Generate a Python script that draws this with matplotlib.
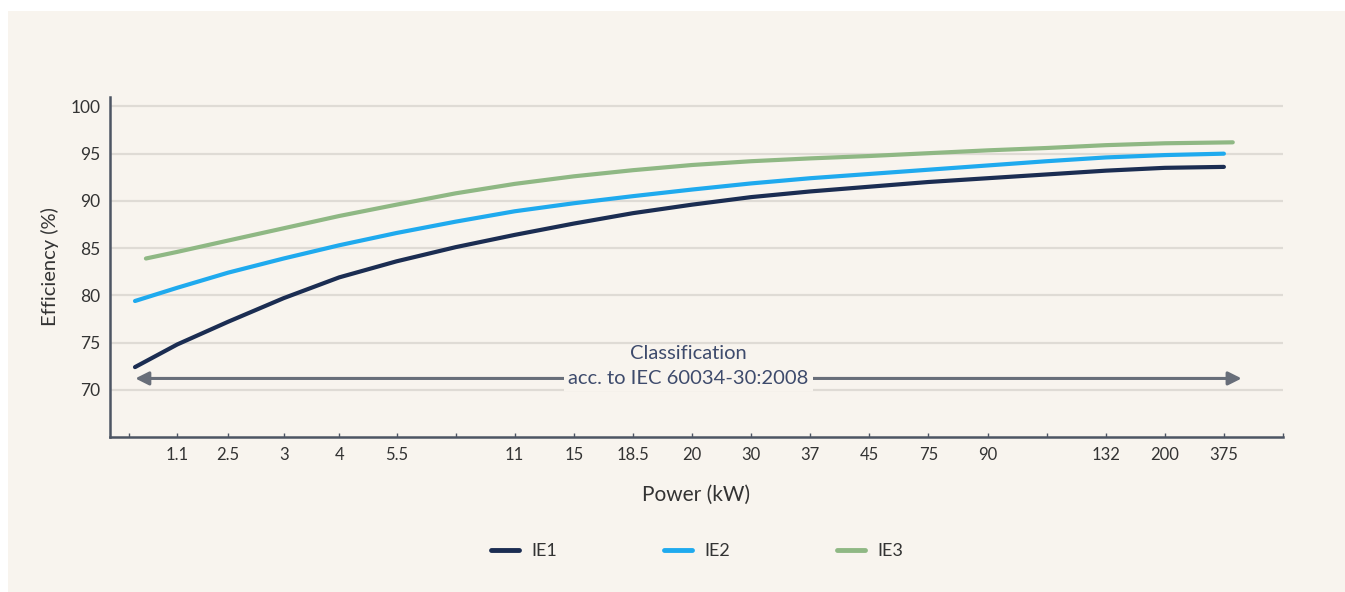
import matplotlib
matplotlib.use("Agg")
import matplotlib.pyplot as plt

# ---------------- data ----------------
power_labels = ["", "1.1", "2.5", "3", "4", "5.5", "", "11", "15", "18.5", "20",
                "30", "37", "45", "75", "90", "", "132", "200", "375", ""]

# efficiency read at each labelled power rating (position along power axis)
ie1_pos = [0.575, 1.29, 2.15, 3.09, 4.03, 5, 6, 7, 8, 9, 10, 11, 12, 13, 14, 15, 16, 17, 18, 19]
ie1_eff = [72.4, 74.8, 77.2, 79.7, 81.9, 83.6, 85.1, 86.4, 87.6, 88.7, 89.6, 90.4, 91.0,
           91.5, 92.0, 92.4, 92.8, 93.2, 93.5, 93.6]

ie2_pos = [0.575, 1.29, 2.15, 3.09, 4.03, 5, 6, 7, 8, 9, 10, 11, 12, 13, 14, 15, 16, 17, 18, 19]
ie2_eff = [79.4, 80.8, 82.4, 83.9, 85.3, 86.6, 87.8, 88.9, 89.75, 90.5, 91.2, 91.85, 92.4,
           92.85, 93.3, 93.75, 94.2, 94.6, 94.85, 95.0]

ie3_pos = [0.76, 1.29, 2.15, 3.09, 4.03, 5, 6, 7, 8, 9, 10, 11, 12, 13, 14, 15, 16, 17, 18, 19.15]
ie3_eff = [83.9, 84.6, 85.8, 87.1, 88.4, 89.6, 90.8, 91.8, 92.6, 93.25, 93.8, 94.2, 94.5,
           94.75, 95.05, 95.35, 95.6, 95.9, 96.1, 96.2]

series_names = ["IE1", "IE2", "IE3"]
y_ticks = [70, 75, 80, 85, 90, 95, 100]

# ---------------- layout / style ----------------
tick_pos = [0.47, 1.29, 2.15, 3.09, 4.03, 5, 6, 7, 8, 9, 10, 11, 12, 13, 14, 15, 16, 17, 18, 19, 20]
colors = ["#1b2d52", "#1faaee", "#8fb884"]
bg = "#f8f4ee"
grid_c = "#dfdbd5"
spine_c = "#4d5563"
text_c = "#333333"
navy_text = "#3e4b6c"

plt.rcParams['font.family'] = ['Lato', 'DejaVu Sans']

fig = plt.figure(figsize=(13.45, 5.92), dpi=100)
fig.patch.set_facecolor("white")
# beige panel (background axes)
bg_ax = fig.add_axes([8 / 1345, 0, 1 - 8 / 1345, 1 - 11 / 592], zorder=-5)
bg_ax.set_axis_off()
bg_ax.add_patch(plt.Rectangle((0, 0), 1, 1, transform=bg_ax.transAxes,
                              facecolor=bg, edgecolor="none"))

ax = fig.add_axes([110 / 1345, 1 - 437 / 592, (1283 - 110) / 1345, (437 - 97) / 592], zorder=2)
ax.patch.set_alpha(0)

ax.set_xlim(0.152, 20)
ax.set_ylim(65, 101)

for yv in y_ticks:
    ax.axhline(yv, color=grid_c, lw=1.6, zorder=1)

for pos, eff, c, name in zip([ie1_pos, ie2_pos, ie3_pos], [ie1_eff, ie2_eff, ie3_eff],
                             colors, series_names):
    ax.plot(pos, eff, color=c, lw=3.0, solid_capstyle="round", solid_joinstyle="round",
            label=name, zorder=3)

# spines
for s in ["top", "right"]:
    ax.spines[s].set_visible(False)
for s in ["left", "bottom"]:
    ax.spines[s].set_color(spine_c)
    ax.spines[s].set_linewidth(1.8)

ax.set_yticks(y_ticks)
ax.set_yticklabels([str(v) for v in y_ticks])
ax.tick_params(axis="y", length=0, pad=7, labelsize=12.5, labelcolor=text_c)
ax.set_xticks(tick_pos)
ax.set_xticklabels(power_labels)
ax.tick_params(axis="x", direction="in", length=3, width=1, color=spine_c, pad=7,
               labelsize=12, labelcolor=text_c)

ax.set_xlabel("Power (kW)", fontsize=15, color=text_c, labelpad=16)
ax.set_ylabel("Efficiency (%)", fontsize=14.5, color=text_c, labelpad=8)

# classification arrow
arrow_y = 71.2
ax.annotate("", xy=(19.3, arrow_y), xytext=(0.58, arrow_y),
            arrowprops=dict(arrowstyle="<|-|>,head_length=0.8,head_width=0.4",
                            color="#686e79", lw=2.2, shrinkA=0, shrinkB=0),
            zorder=2)
mid = (0.58 + 19.3) / 2
ax.text(mid, arrow_y, "acc. to IEC 60034-30:2008", ha="center", va="center",
        fontsize=14.5, color=navy_text, zorder=4,
        bbox=dict(boxstyle="square,pad=0.2", facecolor=bg, edgecolor="none"))
ax.text(mid, 73.8, "Classification", ha="center", va="center",
        fontsize=14.5, color=navy_text, zorder=4)

leg = fig.legend(loc="center", bbox_to_anchor=(697 / 1345, 1 - 551 / 592), ncol=3,
                 frameon=False, fontsize=13, handlelength=1.55, handletextpad=0.7,
                 columnspacing=5.9, labelcolor=text_c)
for h in leg.get_lines():
    h.set_linewidth(3.5)

fig.savefig("out.png", dpi=100, facecolor=fig.get_facecolor())
